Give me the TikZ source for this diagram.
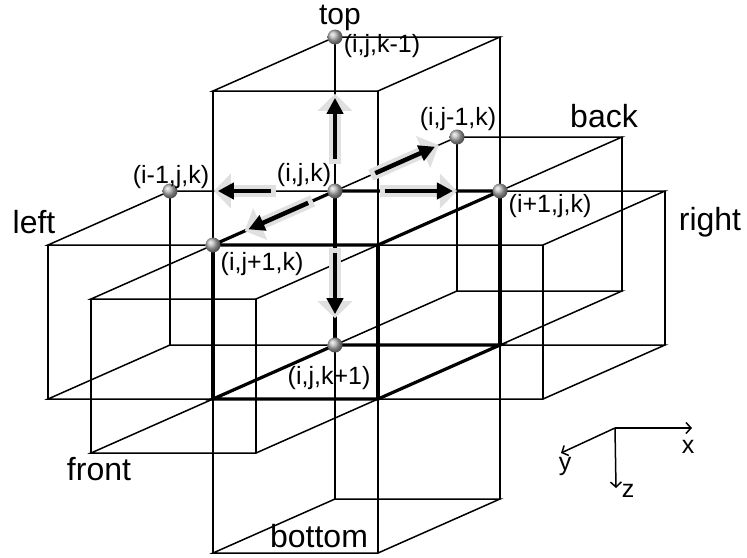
\documentclass[tikz,border=0pt]{standalone}
\usepackage{fontspec}
\setmainfont{Liberation Sans}
\usetikzlibrary{arrows.meta,calc}
\tikzset{
  thinedge/.style={line width=1.5pt, line cap=round, line join=miter},
  thickedge/.style={line width=3.2pt, line cap=round, line join=miter},
  halo/.style={line width=12pt, color=black!12, -{Triangle[width=34pt,length=17pt]}},
  core/.style={line width=4.5pt, -{Triangle[width=16pt,length=16pt]}},
  ballnode/.style={circle, inner sep=0pt, minimum size=15pt, shading=ball, ball color=black!30},
  biglbl/.style={font=\fontsize{32}{36}\selectfont, anchor=base, inner sep=0pt},
  smalllbl/.style={font=\fontsize{25}{28}\selectfont, anchor=base, inner sep=0pt},
  axislbl/.style={font=\fontsize{25}{28}\selectfont, anchor=base, inner sep=0pt},
  axisline/.style={line width=1.5pt, -{Straight Barb[length=5pt,width=11pt]}},
}
\newcommand{\wirecube}[4][]{%
  \draw[#1] (#2,#3,#4) -- ++(1,0,0) -- ++(0,1,0) -- ++(-1,0,0) -- cycle;
  \draw[#1] (#2,#3,#4) ++(0,0,1) -- ++(1,0,0) -- ++(0,1,0) -- ++(-1,0,0) -- cycle;
  \draw[#1] (#2,#3,#4) -- ++(0,0,1);
  \draw[#1] (#2,#3,#4) ++(1,0,0) -- ++(0,0,1);
  \draw[#1] (#2,#3,#4) ++(0,1,0) -- ++(0,0,1);
  \draw[#1] (#2,#3,#4) ++(1,1,0) -- ++(0,0,1);
}
\newcommand{\flowarrow}[2]{%
  \draw[halo] ($(#1)!-5pt!(#2)$) -- ($(#2)!-4pt!(#1)$);
  \draw[core] (#1) -- (#2);
}
\begin{document}
\begin{tikzpicture}[x=1pt,y=-1pt]
\useasboundingbox (0,0) rectangle (747,557);
\begin{scope}[shift={(335,191)}, x={(165pt,0pt)}, y={(-122pt,-54pt)}, z={(0pt,-154pt)}]
  % neighbour cells
  \wirecube[thinedge]{0}{0}{-1}
  \wirecube[thinedge]{0}{0}{1}
  \wirecube[thinedge]{-1}{0}{0}
  \wirecube[thinedge]{1}{0}{0}
  \wirecube[thinedge]{0}{-1}{0}
  \wirecube[thinedge]{0}{1}{0}
  % central cell
  \wirecube[thickedge]{0}{0}{0}
  % nodes
  \coordinate (c)  at (0,0,0);
  \coordinate (xp) at (1,0,0);
  \coordinate (xm) at (-1,0,0);
  \coordinate (yp) at (0,1,0);
  \coordinate (ym) at (0,-1,0);
  \coordinate (zp) at (0,0,1);
  \coordinate (zm) at (0,0,-1);
  % arrow end points
  \coordinate (upT) at (0,0,-0.21);  \coordinate (upH) at (0,0,-0.605);
  \coordinate (dnT) at (0,0,0.40);   \coordinate (dnH) at (0,0,0.80);
  \coordinate (lfT) at (-0.39,0,0);  \coordinate (lfH) at (-0.71,0,0);
  \coordinate (rtT) at (0.30,0,0);   \coordinate (rtH) at (0.715,0,0);
  \coordinate (frT) at (0,0.22,0);   \coordinate (frH) at (0,0.71,0);
  \coordinate (bkT) at (0,-0.33,0);  \coordinate (bkH) at (0,-0.82,0);
\end{scope}
% flux arrows
\flowarrow{upT}{upH}
\flowarrow{dnT}{dnH}
\flowarrow{lfT}{lfH}
\flowarrow{rtT}{rtH}
\flowarrow{frT}{frH}
\flowarrow{bkT}{bkH}
% grid points
\foreach \p in {c,xp,xm,yp,ym,zp,zm}
  \node[ballnode] (b\p) at (\p) {};
% point labels
\node[smalllbl] (lzm) at (382,52)  {(i,j,k-1)};
\node[smalllbl] (lxm) at (171,183) {(i-1,j,k)};
\node[smalllbl] (lc)  at (304,181) {(i,j,k)};
\node[smalllbl] (lyp) at (262,270) {(i,j+1,k)};
\node[smalllbl] (lym) at (458,125) {(i,j-1,k)};
\node[smalllbl] (lxp) at (550,212) {(i+1,j,k)};
\node[smalllbl] (lzp) at (329,384) {(i,j,k+1)};
% face labels
\node[biglbl, font=\fontsize{30}{34}\selectfont] (ttop) at (340,24) {top};
\node[biglbl] (tleft)   at (34,233)  {left};
\node[biglbl] (tback)   at (604,127) {back};
\node[biglbl] (tright)  at (710,230) {right};
\node[biglbl] (tfront)  at (99,480)  {front};
\node[biglbl] (tbottom) at (319,547) {bottom};
% axes triad
\coordinate (ao) at (615,428);
\coordinate (ax) at (692,428);
\coordinate (ay) at (561,453);
\coordinate (az) at (616,488);
\draw[axisline] (ao) -- (ax);
\draw[axisline] (ao) -- (ay);
\draw[axisline] (ao) -- (az);
\node[axislbl] (lx) at (688,453) {x};
\node[axislbl] (ly) at (565,470) {y};
\node[axislbl] (lz) at (628,497) {z};
\end{tikzpicture}
\end{document}
